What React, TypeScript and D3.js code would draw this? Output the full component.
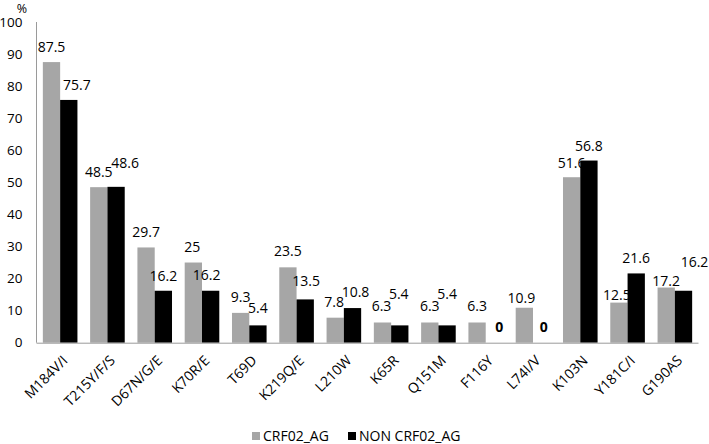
import React from "react";
import * as d3 from "d3";

const categories = ["M184V/I", "T215Y/F/S", "D67N/G/E", "K70R/E", "T69D", "K219Q/E", "L210W", "K65R", "Q151M", "F116Y", "L74I/V", "K103N", "Y181C/I", "G190AS"];
const crfValues = [87.5, 48.5, 29.7, 25, 9.3, 23.5, 7.8, 6.3, 6.3, 6.3, 10.9, 51.6, 12.5, 17.2];
const nonCrfValues = [75.7, 48.6, 16.2, 16.2, 5.4, 13.5, 10.8, 5.4, 5.4, 0, 0, 56.8, 21.6, 16.2];
const seriesNames = ["CRF02_AG", "NON CRF02_AG"];
const yTicks = [0, 10, 20, 30, 40, 50, 60, 70, 80, 90, 100];

// label nudges (styling, px) as placed in the original
const crfLabelDx = [0, 0, 0, -1, 0, 0, -1, -1, 0, 0, -3, 0, -2, 0];
const crfLabelDy = [-10, -10, -10, -11, -11, -11, -11, -11, -11, -11, -5, -9, -3, -2];
const nonLabelDx = [8, 9, 0, -4, 0, 1, 3, -1, 0, 5, 2, 0, 0, 11];
const nonLabelDy = [-10, -19, -10, -11, -12, -13, -11, -26, -26, -11, -11, -10, -10, -24];

const W = 709, H = 444;
const FONT = "'Open Sans', 'Liberation Sans', sans-serif";
const colors = ["#a6a6a6", "#000000"];

export default function App() {
  const x0 = d3.scaleBand<string>().domain(categories).range([36.5, 698.5]).paddingInner(0).paddingOuter(0);
  const x1 = d3.scaleBand<string>().domain(seriesNames).range([0, x0.bandwidth()]).paddingInner(0).paddingOuter(0.367);
  const y = d3.scaleLinear().domain([0, 100]).range([342.7, 22]);
  const series = [crfValues, nonCrfValues];
  const dxs = [crfLabelDx, nonLabelDx];
  const dys = [crfLabelDy, nonLabelDy];

  return (
    <svg width={W} height={H} style={{ position: "absolute", left: 0, top: 0, background: "#fff" }} fontFamily={FONT}>
      <rect x={0} y={0} width={W} height={H} fill="#fff" />
      {yTicks.map((t) => (
        <text key={t} x={22.5} y={y(t)} dy="0.35em" textAnchor="end" fontSize={13.5} fill="#000">{t}</text>
      ))}
      <text x={22} y={13} textAnchor="middle" fontSize={12.5} fill="#000">%</text>
      {series.map((vals, si) => (
        <g key={si}>
          {vals.map((v, i) => {
            const bx = (x0(categories[i]) as number) + (x1(seriesNames[si]) as number);
            const bw = x1.bandwidth();
            return <rect key={i} x={bx} y={y(v)} width={bw} height={y(0) - y(v)} fill={colors[si]} />;
          })}
          {vals.map((v, i) => {
            const bx = (x0(categories[i]) as number) + (x1(seriesNames[si]) as number);
            const bw = x1.bandwidth();
            return (
              <text key={"l" + i} x={bx + bw / 2 + dxs[si][i]} y={y(v) + dys[si][i]} textAnchor="middle" fontSize={14}
                fontWeight={v === 0 ? "bold" : "normal"} fill="#000">{String(v)}</text>
            );
          })}
        </g>
      ))}
      <line x1={36.5} x2={36.5} y1={y(100)} y2={y(0)} stroke="#9a9a9a" strokeWidth={1} />
      <line x1={36.5} x2={698.5} y1={y(0) + 0.5} y2={y(0) + 0.5} stroke="#9a9a9a" strokeWidth={1} />
      {categories.map((c) => {
        const cx = (x0(c) as number) + x0.bandwidth() / 2;
        return (
          <text key={c} transform={`translate(${cx + 1},354) rotate(-45)`} textAnchor="end" dy="0.75em" fontSize={14} fill="#000">{c}</text>
        );
      })}
      {seriesNames.map((s, i) => {
        const lx = i === 0 ? 252 : 348;
        return (
          <g key={s}>
            <rect x={lx} y={432} width={8} height={8} fill={colors[i]} />
            <text x={lx + 11} y={441} fontSize={14} fill="#000">{s}</text>
          </g>
        );
      })}
    </svg>
  );
}
